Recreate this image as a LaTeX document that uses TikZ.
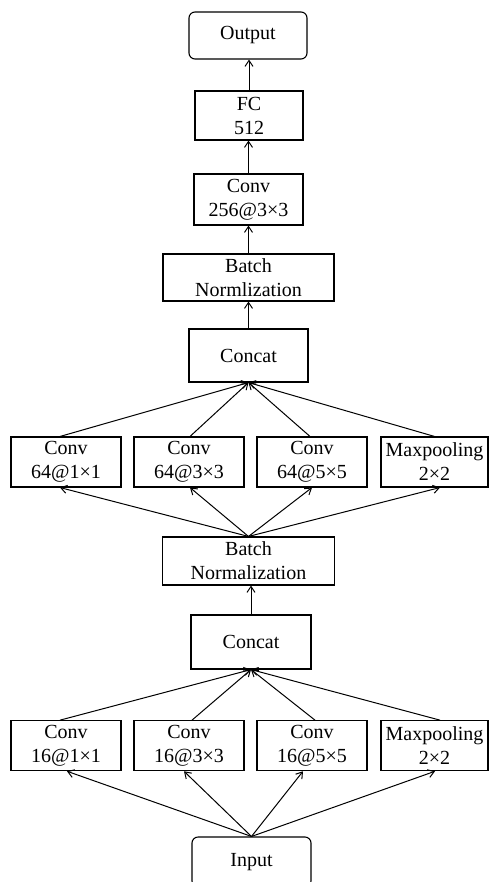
\documentclass[tikz,border=0pt]{standalone}
\usepackage{fontspec}
\setmainfont{Liberation Serif}
\usetikzlibrary{arrows.meta}
\begin{document}
\begin{tikzpicture}[x=1pt,y=-1pt,
  box/.style={draw,line width=1.1pt,inner sep=0pt,align=center,font=\fontsize{20}{24}\selectfont},
  rbox/.style={box,rounded corners=6pt},
  rowbox/.style={box,minimum width=110pt,minimum height=50pt},
  conn/.style={line width=1pt},
  arr/.style={conn,-{Straight Barb[length=6pt,width=8pt]}}]
\useasboundingbox (0,0) rectangle (489,882);
% main column
\node[rbox,minimum width=118pt,minimum height=47pt] (out) at (248,35.5) {Output};
\node[box,minimum width=108pt,minimum height=49pt] (fc) at (249,115.5) {FC\\512};
\node[box,minimum width=109pt,minimum height=51pt] (conv) at (248.5,199.5) {Conv\\256@3×3};
\node[box,minimum width=171pt,minimum height=47pt] (bn1) at (248.5,277.5) {Batch\\Normlization};
\node[box,minimum width=119pt,minimum height=53pt] (cat1) at (248.5,355.5) {Concat};
% row 1
\node[rowbox] (c64a) at (66,462) {Conv\\64@1×1};
\node[rowbox] (c64b) at (189,462) {Conv\\64@3×3};
\node[rowbox] (c64c) at (312,462) {Conv\\64@5×5};
\node[rowbox,minimum width=107pt] (mp1) at (434.5,462) {Maxpooling\\2×2};
\node[box,minimum width=172pt,minimum height=48pt] (bn2) at (248.5,561) {Batch\\Normalization};
\node[box,minimum width=120pt,minimum height=54pt] (cat2) at (251,642) {Concat};
% row 2
\node[rowbox] (c16a) at (66,745.7) {Conv\\16@1×1};
\node[rowbox] (c16b) at (189,745.7) {Conv\\16@3×3};
\node[rowbox] (c16c) at (312,745.7) {Conv\\16@5×5};
\node[rowbox,minimum width=107pt] (mp2) at (434.5,745.7) {Maxpooling\\2×2};
\node[rbox,minimum width=119pt,minimum height=50pt] (in) at (251.5,862) {Input};
% vertical arrows
\draw[arr] (fc.north) -- (fc.north |- out.south);
\draw[arr] (conv.north) -- (conv.north |- fc.south);
\draw[arr] (bn1.north) -- (bn1.north |- conv.south);
\draw[arr] (cat1.north) -- (cat1.north |- bn1.south);
\draw[arr] (cat2.north) -- (cat2.north |- bn2.south);
% row 1 to concat 1
\draw[arr] ([xshift=-6pt]c64a.north) -- (cat1.south);
\draw[arr] ([xshift=1pt]c64b.north) -- (cat1.south);
\draw[arr] ([xshift=-2pt]c64c.north) -- (cat1.south);
\draw[arr] (mp1.north) -- (cat1.south);
% bn2 to row 1
\draw[arr] (bn2.north) -- ([xshift=-6pt]c64a.south);
\draw[arr] (bn2.north) -- ([xshift=1pt]c64b.south);
\draw[arr] (bn2.north) -- ([xshift=0pt]c64c.south);
\draw[arr] (bn2.north) -- ([xshift=5.5pt]mp1.south);
% row 2 to concat 2
\draw[arr] ([xshift=-6pt]c16a.north) -- (cat2.south);
\draw[arr] ([xshift=3pt]c16b.north) -- (cat2.south);
\draw[arr] ([xshift=3pt]c16c.north) -- (cat2.south);
\draw[arr] ([xshift=5.5pt]mp2.north) -- (cat2.south);
% input to row 2
\draw[arr] (in.north) -- ([xshift=1pt]c16a.south);
\draw[arr] (in.north) -- ([xshift=-5pt]c16b.south);
\draw[arr] (in.north) -- ([xshift=-9pt]c16c.south);
\draw[arr] (in.north) -- ([xshift=0.5pt]mp2.south);
\end{tikzpicture}
\end{document}
